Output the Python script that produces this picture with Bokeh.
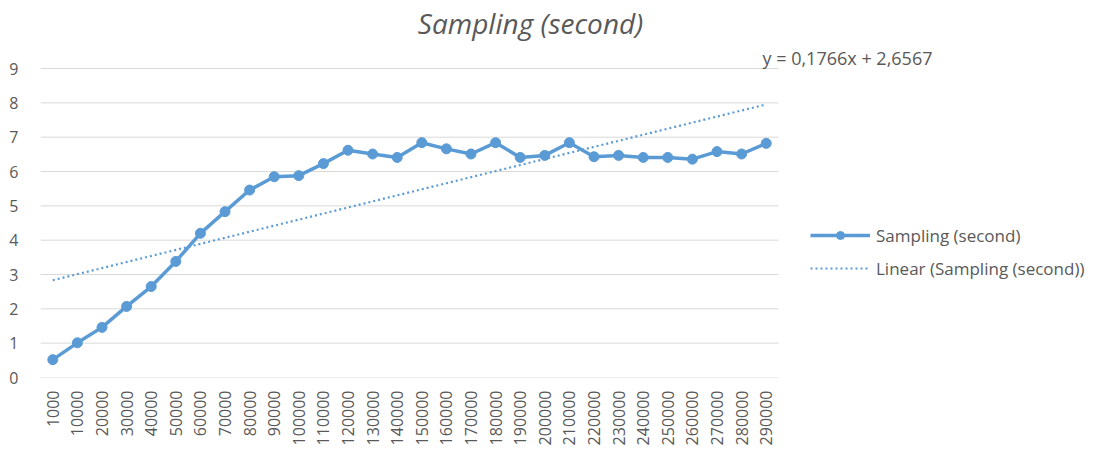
from bokeh.plotting import figure
from bokeh.models import (ColumnDataSource, Range1d, FixedTicker, Label,
                          Legend, LegendItem)
from bokeh.embed import file_html
from bokeh.resources import INLINE
import math

categories = ["1000", "10000", "20000", "30000", "40000", "50000", "60000",
              "70000", "80000", "90000", "100000", "110000", "120000", "130000",
              "140000", "150000", "160000", "170000", "180000", "190000",
              "200000", "210000", "220000", "230000", "240000", "250000",
              "260000", "270000", "280000", "290000"]
sampling_seconds = [0.52, 1.01, 1.46, 2.07, 2.65, 3.38, 4.20, 4.83, 5.46, 5.85,
                    5.88, 6.23, 6.62, 6.51, 6.41, 6.84, 6.66, 6.51, 6.84, 6.41,
                    6.47, 6.84, 6.43, 6.47, 6.41, 6.41, 6.36, 6.58, 6.51, 6.82]
trend_slope = 0.1766
trend_intercept = 2.6567
y_ticks = [0, 1, 2, 3, 4, 5, 6, 7, 8, 9]

series_name = "Sampling (second)"
trend_name = "Linear (Sampling (second))"
equation_text = "y = 0,1766x + 2,6567"

# category positions on a numeric axis (1..N), labelled with the categories
xpos = list(range(1, len(categories) + 1))
trend_values = [trend_slope * x + trend_intercept for x in xpos]

BLUE = "#5B9BD5"
TEXT = "#595959"
GRID = "#D9D9D9"
FONT = "Open Sans"

W, H = 1089, 450
LEFT, BOTTOM = 40, 73
frame_w = W - LEFT
frame_h = H - BOTTOM
cat_px = 24.6      # pixel width of one category
unit_px = 34.33    # pixels per y unit

src = ColumnDataSource(dict(x=xpos, y=sampling_seconds, t=trend_values))

p = figure(width=W, height=H, output_backend="svg", toolbar_location=None,
           x_range=Range1d(0.5, 0.5 + frame_w / cat_px),
           y_range=Range1d(0, frame_h / unit_px),
           min_border_left=LEFT, min_border_right=0,
           min_border_top=0, min_border_bottom=BOTTOM)
p.outline_line_color = None
p.background_fill_color = "white"
p.border_fill_color = "white"
p.xgrid.grid_line_color = None
p.ygrid.grid_line_color = None

# horizontal gridlines limited to the category span
n = len(categories)
p.segment(x0=[0.5] * len(y_ticks), x1=[n + 0.5] * len(y_ticks),
          y0=y_ticks, y1=y_ticks, line_color=GRID, line_width=1)

r_trend = p.line("x", "t", source=src, line_color=BLUE, line_width=2.2,
                 line_dash="2 3")
r_line = p.line("x", "y", source=src, line_color=BLUE, line_width=3.5)
r_pts = p.scatter("x", "y", source=src, size=10, fill_color=BLUE,
                  line_color=BLUE)

# axes
p.yaxis.ticker = FixedTicker(ticks=y_ticks)
p.yaxis.axis_line_color = None
p.yaxis.major_tick_line_color = None
p.yaxis.minor_tick_line_color = None
p.yaxis.major_label_standoff = 16
p.yaxis.major_label_text_font = FONT
p.yaxis.major_label_text_font_size = "16px"
p.yaxis.major_label_text_color = TEXT

p.xaxis.ticker = FixedTicker(ticks=xpos)
p.xaxis.major_label_overrides = {x: c for x, c in zip(xpos, categories)}
p.xaxis.axis_line_color = None
p.xaxis.major_tick_line_color = None
p.xaxis.minor_tick_line_color = None
p.xaxis.major_label_orientation = math.pi / 2
p.xaxis.major_label_standoff = 7
p.xaxis.major_label_text_font = FONT
p.xaxis.major_label_text_font_size = "16px"
p.xaxis.major_label_text_color = TEXT

# title & trendline equation (screen units relative to the frame)
p.add_layout(Label(x=490, y=frame_h - 22, x_units="screen", y_units="screen",
                   text=series_name, text_align="center", text_baseline="middle",
                   text_font=FONT, text_font_style="italic",
                   text_font_size="28px", text_color=TEXT))
p.add_layout(Label(x=722, y=frame_h - 57, x_units="screen", y_units="screen",
                   text=equation_text, text_align="left", text_baseline="middle",
                   text_font=FONT, text_font_size="18px", text_color=TEXT))

legend = Legend(items=[LegendItem(label=series_name, renderers=[r_line, r_pts]),
                       LegendItem(label=trend_name, renderers=[r_trend])],
                location=(770, frame_h - 279.5), orientation="vertical",
                glyph_width=60, glyph_height=20, label_height=20,
                spacing=10, padding=0, margin=0, label_standoff=6,
                border_line_color=None, background_fill_alpha=0,
                label_text_font=FONT, label_text_font_size="17px",
                label_text_color=TEXT)
p.add_layout(legend, "center")

open("out.html", "w").write(file_html(p, INLINE))
